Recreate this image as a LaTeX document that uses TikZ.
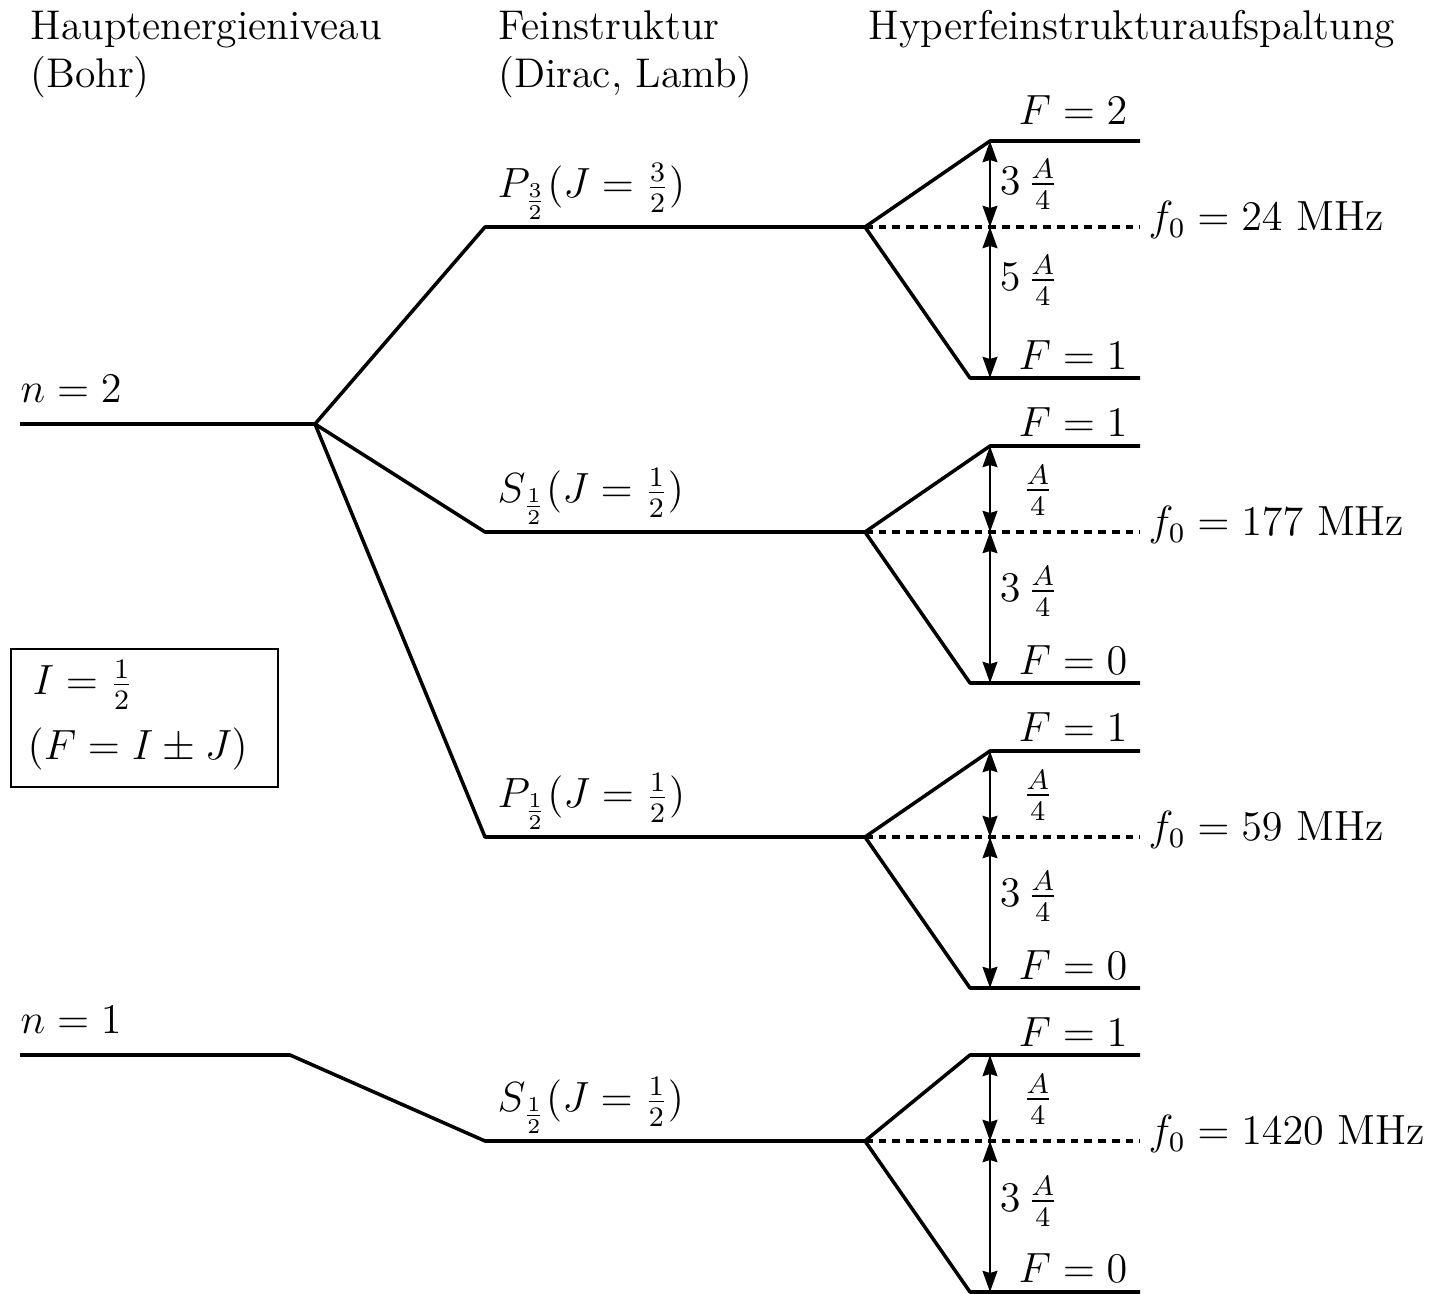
\documentclass[tikz,border=0pt]{standalone}
\usetikzlibrary{arrows.meta}
\begin{document}
\begin{tikzpicture}[x=0.01cm,y=-0.01cm,
  lvl/.style={line width=1pt, line join=round},
  dsh/.style={line width=1pt, dash pattern=on 2.2pt off 1.7pt},
  dbl/.style={line width=0.7pt, {Stealth[length=6pt,width=4.2pt,inset=0.6pt]}-{Stealth[length=6pt,width=4.2pt,inset=0.6pt]}},
  txt/.style={inner sep=0pt, font=\fontsize{12}{14}\selectfont},
  hdr/.style={inner sep=0pt, anchor=base west, font=\fontsize{11.8}{14}\selectfont},
  boxst/.style={draw, line width=0.5pt, inner sep=0pt, anchor=north west, minimum width=2.67cm, minimum height=1.38cm},
]
\useasboundingbox (0,0) rectangle (1447,1294);

% headers
\node[hdr] (h1a) at (30,40) {Hauptenergieniveau};
\node[hdr] (h1b) at (30,88) {(Bohr)};
\node[hdr] (h2a) at (498,40) {Feinstruktur};
\node[hdr] (h2b) at (498,88) {(Dirac, Lamb)};
\node[hdr] (h3a) at (868,40) {Hyperfeinstrukturaufspaltung};

% main levels
\coordinate (n2L) at (20,424);  \coordinate (n2R) at (315,424);
\coordinate (n1L) at (20,1055); \coordinate (n1R) at (290,1055);
\coordinate (pdL) at (485,227); \coordinate (c1) at (865,227);
\coordinate (saL) at (485,532); \coordinate (c2) at (865,532);
\coordinate (paL) at (485,837); \coordinate (c3) at (865,837);
\coordinate (sbL) at (485,1141);\coordinate (c4) at (865,1141);

\node[txt, anchor=base west] (ln2) at (20,403) {$n=2$};
\node[txt, anchor=base west] (ln1) at (20,1034) {$n=1$};

\draw[lvl] (n2L) -- (n2R) -- (pdL) -- (c1);
\draw[lvl] (n2R) -- (saL) -- (c2);
\draw[lvl] (n2R) -- (paL) -- (c3);
\draw[lvl] (n1L) -- (n1R) -- (sbL) -- (c4);

\node[txt, anchor=base west] (lpd) at (497,198) {$P_{\frac{3}{2}}(J=\frac{3}{2})$};
\node[txt, anchor=base west] (lsa) at (497,503) {$S_{\frac{1}{2}}(J=\frac{1}{2})$};
\node[txt, anchor=base west] (lpa) at (497,808) {$P_{\frac{1}{2}}(J=\frac{1}{2})$};
\node[txt, anchor=base west] (lsb) at (497,1112) {$S_{\frac{1}{2}}(J=\frac{1}{2})$};

% hyperfine groups
\foreach \i/\c/\tx in {1/227/990, 2/532/990, 3/837/990, 4/1141/970}{
  \coordinate (t\i) at (\tx,\c-86);
  \coordinate (te\i) at (1140,\c-86);
  \coordinate (b\i) at (970,\c+151);
  \coordinate (be\i) at (1140,\c+151);
  \coordinate (de\i) at (1140,\c);
  \coordinate (at\i) at (990,\c-86);
  \coordinate (am\i) at (990,\c);
  \coordinate (ab\i) at (990,\c+151);
  \draw[lvl] (c\i) -- (t\i) -- (te\i);
  \draw[lvl] (c\i) -- (b\i) -- (be\i);
  \draw[dsh] (c\i) -- (de\i);
  \draw[dbl] (am\i) -- (at\i);
  \draw[dbl] (am\i) -- (ab\i);
}

% group 1
\node[txt, anchor=base east] (F1t) at (1128,125) {$F=2$};
\node[txt, anchor=base east] (F1b) at (1128,370) {$F=1$};
\node[txt, anchor=east] (a1t) at (1059,184) {$3\,\frac{A}{4}$};
\node[txt, anchor=east] (a1b) at (1059,280) {$5\,\frac{A}{4}$};
\node[txt, anchor=base west] (f1) at (1148,231) {$f_0=24$ MHz};

% group 2
\node[txt, anchor=base east] (F2t) at (1128,437) {$F=1$};
\node[txt, anchor=base east] (F2b) at (1128,675) {$F=0$};
\node[txt, anchor=east] (a2t) at (1054,490) {$\frac{A}{4}$};
\node[txt, anchor=east] (a2b) at (1059,591) {$3\,\frac{A}{4}$};
\node[txt, anchor=base west] (f2) at (1148,536) {$f_0=177$ MHz};

% group 3
\node[txt, anchor=base east] (F3t) at (1128,742) {$F=1$};
\node[txt, anchor=base east] (F3b) at (1128,980) {$F=0$};
\node[txt, anchor=east] (a3t) at (1054,795) {$\frac{A}{4}$};
\node[txt, anchor=east] (a3b) at (1059,896) {$3\,\frac{A}{4}$};
\node[txt, anchor=base west] (f3) at (1148,841) {$f_0=59$ MHz};

% group 4
\node[txt, anchor=base east] (F4t) at (1128,1047) {$F=1$};
\node[txt, anchor=base east] (F4b) at (1128,1283) {$F=0$};
\node[txt, anchor=east] (a4t) at (1054,1099) {$\frac{A}{4}$};
\node[txt, anchor=east] (a4b) at (1059,1201) {$3\,\frac{A}{4}$};
\node[txt, anchor=base west] (f4) at (1148,1145) {$f_0=1420$ MHz};

% info box
\node[boxst] (box) at (10,648) {};
\node[txt, anchor=base west] (bi) at (32,695) {$I=\frac{1}{2}$};
\node[txt, anchor=base west] (bf) at (27,760) {$(F=I\pm J)$};
\end{tikzpicture}
\end{document}
